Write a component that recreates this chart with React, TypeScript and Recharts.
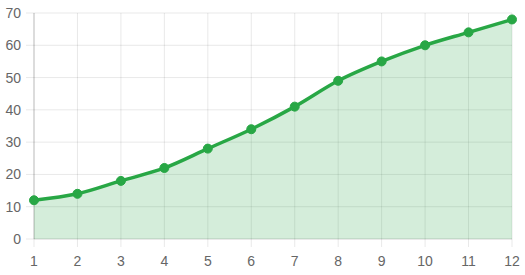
import React from 'react';
import { AreaChart, Area, XAxis, YAxis, CartesianGrid } from 'recharts';

const categories = ['1', '2', '3', '4', '5', '6', '7', '8', '9', '10', '11', '12'];
const values = [12, 14, 18, 22, 28, 34, 41, 49, 55, 60, 64, 68];
const yTicks = [0, 10, 20, 30, 40, 50, 60, 70];

const data = categories.map((c, i) => ({ x: c, v: values[i] }));

const green = '#28a745';
const grid = 'rgba(0,0,0,0.09)';
const tickStyle = { fill: '#666', fontSize: 14, fontFamily: '"Liberation Sans", Arial, Helvetica, sans-serif' };

export default function App() {
  return (
    <div style={{ position: 'absolute', left: 0, top: 0, width: 525, height: 275, background: '#fff' }}>
      <AreaChart width={525} height={275} data={data} margin={{ top: 13, right: 13, bottom: 0, left: 0 }}>
        <CartesianGrid stroke={grid} strokeWidth={1} />
        <XAxis
          dataKey="x"
          height={36}
          tick={tickStyle}
          tickSize={8}
          tickMargin={9}
          tickLine={{ stroke: grid }}
          axisLine={{ stroke: grid }}
          interval={0}
        />
        <YAxis
          width={34}
          domain={[0, 70]}
          ticks={yTicks}
          tick={tickStyle}
          tickSize={8}
          tickMargin={5}
          tickLine={{ stroke: grid }}
          axisLine={{ stroke: 'rgba(0,0,0,0.2)' }}
          interval={0}
        />
        <Area
          type="monotone"
          dataKey="v"
          stroke={green}
          strokeWidth={3.5}
          fill="rgba(40,167,69,0.2)"
          fillOpacity={1}
          dot={{ r: 4.5, fill: green, stroke: green, strokeWidth: 1 }}
          activeDot={false}
          isAnimationActive={false}
        />
      </AreaChart>
    </div>
  );
}
